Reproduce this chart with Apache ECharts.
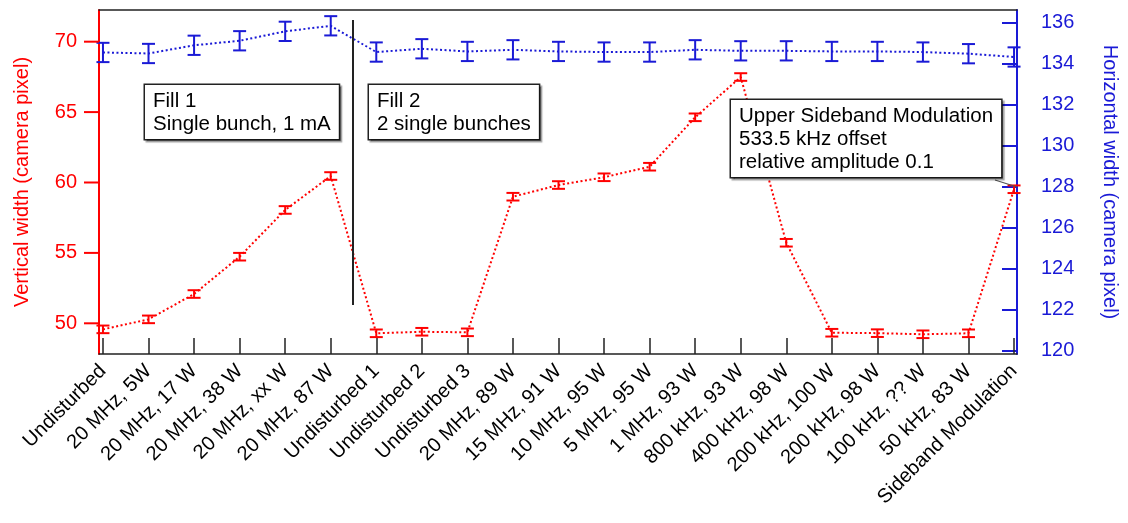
<!DOCTYPE html>
<html>
<head>
<meta charset="utf-8">
<script src="https://cdn.jsdelivr.net/npm/echarts@6/dist/echarts.min.js"></script>
<style>html,body{margin:0;padding:0;background:#fff}#chart{width:1128px;height:523px}</style>
</head>
<body>
<div id="chart"></div>
<script>
const categories = ['Undisturbed', '20 MHz, 5W', '20 MHz, 17 W', '20 MHz, 38 W', '20 MHz, xx W', '20 MHz, 87 W',
  'Undisturbed 1', 'Undisturbed 2', 'Undisturbed 3', '20 MHz, 89 W', '15 MHz, 91 W', '10 MHz, 95 W',
  '5 MHz, 95 W', '1 MHz, 93 W', '800 kHz, 93 W', '400 kHz, 98 W', '200 kHz, 100 W', '200 kHz, 98 W',
  '100 kHz, ?? W', '50 kHz, 83 W', 'Sideband Modulation'];
const verticalWidth = [49.57, 50.28, 52.08, 54.73, 58.05, 60.46, 49.29, 49.40, 49.36, 58.99, 59.82, 60.37,
  61.12, 64.63, 67.49, 55.72, 49.33, 49.30, 49.22, 49.29, 59.52];
const verticalErr = [0.27, 0.27, 0.27, 0.27, 0.27, 0.27, 0.27, 0.27, 0.27, 0.27, 0.27, 0.27,
  0.27, 0.27, 0.27, 0.27, 0.27, 0.27, 0.27, 0.27, 0.27];
const horizontalWidth = [134.55, 134.50, 134.90, 135.12, 135.58, 135.85, 134.57, 134.73, 134.60, 134.68, 134.60, 134.57,
  134.57, 134.68, 134.63, 134.63, 134.60, 134.60, 134.57, 134.49, 134.33];
const horizontalErr = [0.47, 0.47, 0.47, 0.47, 0.47, 0.47, 0.47, 0.47, 0.47, 0.47, 0.47, 0.47,
  0.47, 0.47, 0.47, 0.47, 0.47, 0.47, 0.47, 0.47, 0.47];
const leftTicks = [50, 55, 60, 65, 70];
const rightTicks = [120, 122, 124, 126, 128, 130, 132, 134, 136];
const fillDivider = [[5.48, 71.54], [5.48, 51.3]];

const RED = '#ff0000';
const BLUE = '#1a1ad6';
const FONT = '"Liberation Sans", Arial, Helvetica, sans-serif';
const X_MIN = -0.087, X_MAX = 20.065;
const idx = categories.map((_, i) => i);

function errBars(color) {
  return function (params, api) {
    const x = api.value(0), y = api.value(1), e = api.value(2);
    const t = api.coord([x, y + e]);
    const b = api.coord([x, y - e]);
    const hw = 6.5;
    const st = { stroke: color, lineWidth: 2 };
    return {
      type: 'group',
      children: [
        { type: 'line', shape: { x1: t[0], y1: t[1], x2: b[0], y2: b[1] }, style: st },
        { type: 'line', shape: { x1: t[0] - hw, y1: t[1], x2: t[0] + hw, y2: t[1] }, style: st },
        { type: 'line', shape: { x1: b[0] - hw, y1: b[1], x2: b[0] + hw, y2: b[1] }, style: st }
      ]
    };
  };
}

const chart = echarts.init(document.getElementById('chart'), null, { renderer: 'canvas' });
const boxStyle = {
  font: '20.5px ' + FONT, fill: '#000', backgroundColor: '#fff', borderColor: '#222', borderWidth: 1.5,
  lineHeight: 23, padding: [5, 8, 3, 8],
  shadowColor: 'rgba(0,0,0,0.35)', shadowOffsetX: 2, shadowOffsetY: 2, shadowBlur: 1
};
chart.setOption({
  animation: false,
  grid: { left: 99, right: 103, top: 10, bottom: 169, containLabel: false },
  xAxis: [{
    type: 'value', min: X_MIN, max: X_MAX, position: 'bottom',
    axisLine: { show: true, onZero: false, lineStyle: { color: '#222', width: 1.5 } },
    axisTick: { show: true, inside: true, length: 16, customValues: idx, lineStyle: { color: '#222', width: 1.5 } },
    axisLabel: {
      show: true, customValues: idx, rotate: 45, margin: 14, color: '#000',
      fontSize: 20, fontFamily: FONT, formatter: v => categories[Math.round(v)]
    },
    splitLine: { show: false }
  }, {
    type: 'value', min: X_MIN, max: X_MAX, position: 'top',
    axisLine: { show: true, onZero: false, lineStyle: { color: '#222', width: 1.5 } },
    axisTick: { show: false }, axisLabel: { show: false }, splitLine: { show: false }
  }],
  yAxis: [{
    type: 'value', min: 47.82, max: 72.25, position: 'left',
    name: 'Vertical width (camera pixel)', nameLocation: 'middle', nameGap: 67, nameRotate: 90,
    nameTextStyle: { color: RED, fontSize: 20, fontFamily: FONT },
    axisLine: { show: true, onZero: false, lineStyle: { color: RED, width: 2 } },
    axisTick: { show: false },
    axisLabel: { show: true, customValues: leftTicks, color: RED, fontSize: 20, fontFamily: FONT, margin: 22 },
    splitLine: { show: false }
  }, {
    type: 'value', min: 119.85, max: 136.62, position: 'right',
    name: 'Horizontal width (camera pixel)', nameLocation: 'middle', nameGap: 83, nameRotate: -90,
    nameTextStyle: { color: BLUE, fontSize: 20, fontFamily: FONT },
    axisLine: { show: true, onZero: false, lineStyle: { color: BLUE, width: 2 } },
    axisTick: { show: true, inside: true, length: 15, customValues: rightTicks, lineStyle: { color: BLUE, width: 2 } },
    axisLabel: { show: true, customValues: rightTicks, color: BLUE, fontSize: 20, fontFamily: FONT, margin: 24 },
    splitLine: { show: false }
  }],
  series: [{
    type: 'line', xAxisIndex: 0, yAxisIndex: 0, symbol: 'none', z: 3,
    data: verticalWidth.map((v, i) => [i, v]),
    lineStyle: { color: RED, width: 2, type: [2, 2.5] },
    markLine: {
      silent: true, symbol: 'none', label: { show: false }, animation: false,
      lineStyle: { color: '#222', width: 2, type: 'solid' },
      data: [[{ coord: fillDivider[0] }, { coord: fillDivider[1] }]]
    }
  }, {
    type: 'custom', xAxisIndex: 0, yAxisIndex: 0, z: 4,
    renderItem: errBars(RED),
    data: verticalWidth.map((v, i) => [i, v, verticalErr[i]])
  }, {
    type: 'line', xAxisIndex: 0, yAxisIndex: 1, symbol: 'none', z: 3,
    data: horizontalWidth.map((v, i) => [i, v]),
    lineStyle: { color: BLUE, width: 2, type: [2, 2.5] }
  }, {
    type: 'custom', xAxisIndex: 0, yAxisIndex: 1, z: 4,
    renderItem: errBars(BLUE),
    data: horizontalWidth.map((v, i) => [i, v, horizontalErr[i]])
  }]
});

// annotations plus left-axis tick marks positioned through the chart's own scales
const axisX = chart.convertToPixel({ xAxisIndex: 0 }, X_MIN);
const tickGraphics = leftTicks.map(v => {
  const y = chart.convertToPixel({ yAxisIndex: 0 }, v);
  return { type: 'line', z: 20, silent: true, shape: { x1: axisX - 15, y1: y, x2: axisX, y2: y }, style: { stroke: RED, lineWidth: 2 } };
});
chart.setOption({
  graphic: [
    { type: 'text', x: 145, y: 85, z: 10, style: Object.assign({ text: 'Fill 1\nSingle bunch, 1 mA' }, boxStyle) },
    { type: 'text', x: 369, y: 85, z: 10, style: Object.assign({ text: 'Fill 2\n2 single bunches' }, boxStyle) },
    { type: 'line', z: 9, shape: { x1: 995, y1: 180, x2: 1017, y2: 187 }, style: { stroke: '#555', lineWidth: 1.2 } },
    { type: 'text', x: 731, y: 100, z: 10, style: Object.assign({ text: 'Upper Sideband Modulation\n533.5 kHz offset\nrelative amplitude 0.1' }, boxStyle) }
  ].concat(tickGraphics)
});
</script>
</body>
</html>
